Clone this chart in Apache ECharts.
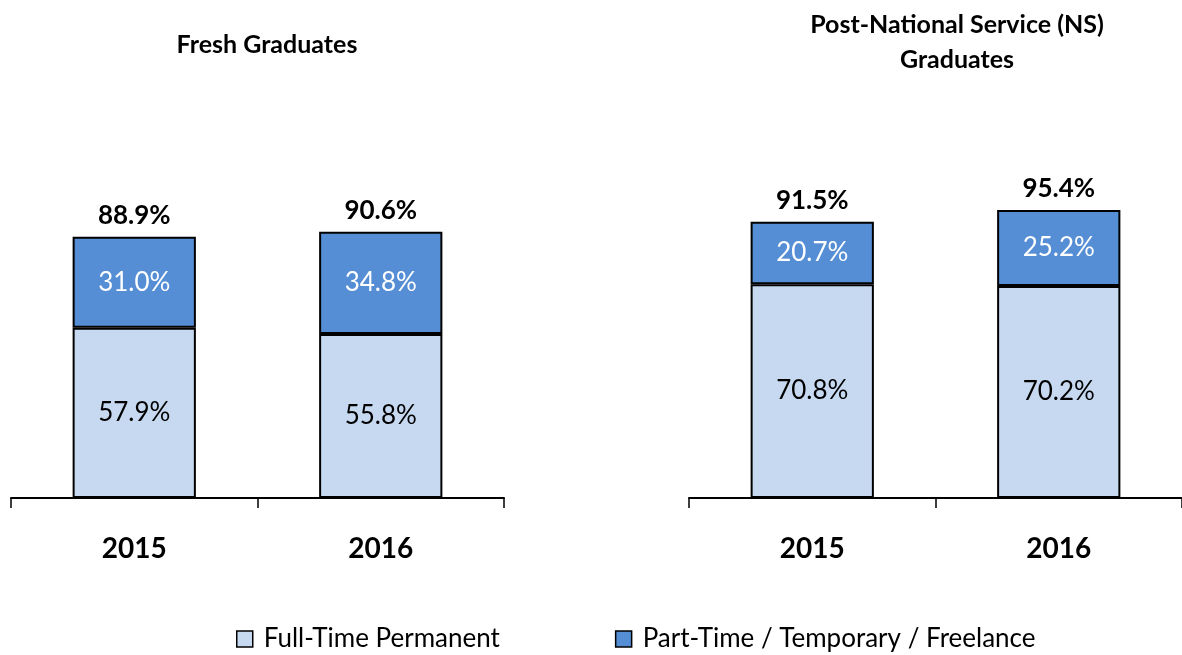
<!DOCTYPE html>
<html>
<head>
<meta charset="utf-8">
<script src="https://cdn.jsdelivr.net/npm/echarts@6/dist/echarts.min.js"></script>
<style>
  html, body { margin: 0; padding: 0; background: #fff; }
  #chart { width: 1182px; height: 655px; }
</style>
</head>
<body>
<div id="chart"></div>
<script>
// values
const years = ['2015', '2016']
const freshFullTime = [57.9, 55.8]
const freshPartTime = [31.0, 34.8]
const freshTotal = [88.9, 90.6]
const nsFullTime = [70.8, 70.2]
const nsPartTime = [20.7, 25.2]
const nsTotal = [91.5, 95.4]

const FONT = 'Lato, "Open Sans", sans-serif'
const LIGHT = '#c6d9f1'
const DARK = '#558ed5'

const chart = echarts.init(document.getElementById('chart'))

function xAxisFor(idx) {
  return {
    type: 'category',
    gridIndex: idx,
    data: years,
    axisLine: { lineStyle: { color: '#000', width: 2 } },
    axisTick: { show: true, length: 10, lineStyle: { color: '#000', width: 1.5 } },
    axisLabel: { margin: 37, color: '#000', fontFamily: FONT, fontWeight: 'bold', fontSize: 28 }
  }
}

function yAxisFor(idx) {
  return { type: 'value', gridIndex: idx, min: 0, max: 100, show: false }
}

function barSeries(name, data, idx, color, labelColor) {
  return {
    name: name,
    type: 'bar',
    stack: 'g' + idx,
    xAxisIndex: idx,
    yAxisIndex: idx,
    barWidth: '50%',
    data: data,
    itemStyle: { color: color, borderColor: '#000', borderWidth: 2 },
    label: {
      show: true,
      position: 'inside',
      formatter: p => p.value.toFixed(1) + '%',
      color: labelColor,
      fontFamily: FONT,
      fontSize: 26
    }
  }
}

// zero-height bar on top of each stack, only carries the bold total label
function totalSeries(totals, idx) {
  return {
    type: 'bar',
    stack: 'g' + idx,
    xAxisIndex: idx,
    yAxisIndex: idx,
    barWidth: '50%',
    data: totals.map(() => 0),
    silent: true,
    itemStyle: { color: 'transparent' },
    label: {
      show: true,
      position: 'top',
      distance: 8,
      formatter: p => totals[p.dataIndex].toFixed(1) + '%',
      color: '#000',
      fontFamily: FONT,
      fontWeight: 'bold',
      fontSize: 26
    }
  }
}

chart.setOption({
  animation: false,
  title: [
    {
      text: 'Fresh Graduates',
      left: 262, top: 27, textAlign: 'center',
      textStyle: { fontFamily: FONT, fontWeight: 'bold', fontSize: 25, color: '#000' }
    },
    {
      text: 'Post-National Service (NS)\nGraduates',
      left: 952, top: 2, textAlign: 'center',
      textStyle: { fontFamily: FONT, fontWeight: 'bold', fontSize: 25, lineHeight: 35, color: '#000' }
    }
  ],
  grid: [
    { left: 11, width: 493, top: 204, height: 294 },
    { left: 689, width: 493, top: 196, height: 302 }
  ],
  xAxis: [xAxisFor(0), xAxisFor(1)],
  yAxis: [yAxisFor(0), yAxisFor(1)],
  legend: {
    data: ['Full-Time Permanent', 'Part-Time / Temporary / Freelance'],
    icon: 'rect',
    left: 231,
    top: 621,
    itemWidth: 16,
    itemHeight: 16,
    itemGap: 115,
    itemStyle: { borderColor: '#000', borderWidth: 1.5 },
    textStyle: { fontFamily: FONT, fontSize: 26, color: '#000', padding: [0, 0, 0, 6] }
  },
  series: [
    barSeries('Full-Time Permanent', freshFullTime, 0, LIGHT, '#000'),
    barSeries('Part-Time / Temporary / Freelance', freshPartTime, 0, DARK, '#fff'),
    totalSeries(freshTotal, 0),
    barSeries('Full-Time Permanent', nsFullTime, 1, LIGHT, '#000'),
    barSeries('Part-Time / Temporary / Freelance', nsPartTime, 1, DARK, '#fff'),
    totalSeries(nsTotal, 1)
  ]
})
</script>
</body>
</html>
